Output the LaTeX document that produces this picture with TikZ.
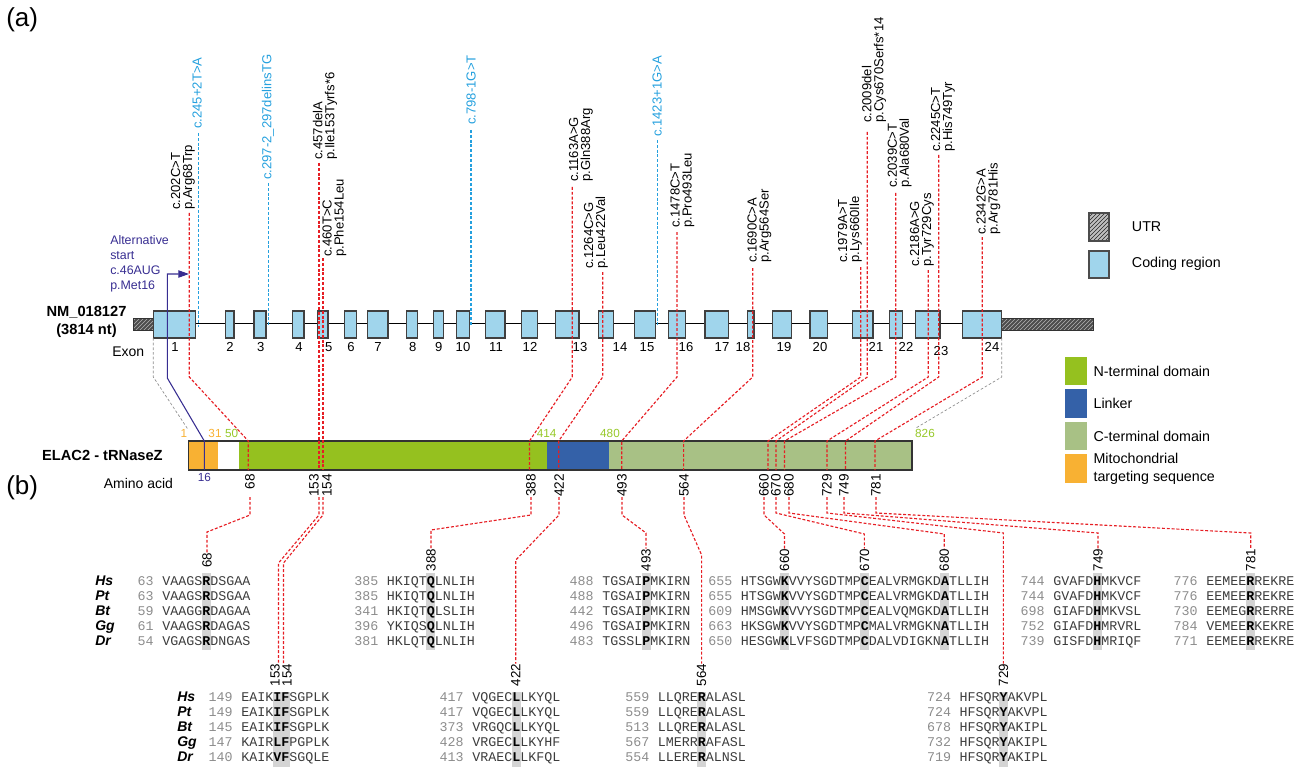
\documentclass[tikz,border=0pt]{standalone}
\usepackage{fontspec}
\setmainfont{Liberation Sans}
\setmonofont{Liberation Mono}
\usetikzlibrary{patterns,arrows.meta}
\definecolor{cod}{RGB}{160,213,236}
\definecolor{mred}{RGB}{230,30,36}
\definecolor{mblue}{RGB}{36,160,222}
\definecolor{purp}{RGB}{55,45,145}
\definecolor{nterm}{RGB}{149,193,31}
\definecolor{linker}{RGB}{52,97,168}
\definecolor{cterm}{RGB}{168,193,133}
\definecolor{mito}{RGB}{248,177,51}
\definecolor{numgreen}{RGB}{150,200,40}
\definecolor{seqgray}{RGB}{60,60,60}
\definecolor{numgray}{RGB}{140,140,140}
\definecolor{hlgray}{RGB}{212,212,212}
\newcommand{\hlch}[1]{\textbf{\textcolor{black}{#1}}}
\begin{document}
\begin{tikzpicture}[x=0.75pt,y=-0.75pt,
  exon/.style={draw=black!75,line width=0.9pt,fill=cod},
  mut/.style={draw=mred,line width=0.85pt,dash pattern=on 2.2pt off 1.4pt},
  spl/.style={draw=mblue,line width=0.85pt,dash pattern=on 2.2pt off 1.4pt},
  gdash/.style={draw=black!45,line width=0.5pt,dash pattern=on 2pt off 1.5pt},
  mlab/.style={rotate=90,anchor=west,align=left,inner sep=0pt,font=\fontsize{9.8}{9}\selectfont},
  exnum/.style={inner sep=0pt,font=\fontsize{9.8}{10}\selectfont},
  barnum/.style={rotate=90,anchor=east,inner sep=0pt,font=\fontsize{10.2}{10}\selectfont},
  alnum/.style={rotate=90,inner sep=0pt,font=\fontsize{10}{10}\selectfont},
  topnum/.style={inner sep=0pt,font=\fontsize{8.8}{9}\selectfont},
  seqst/.style={anchor=mid west,inner sep=0pt,font=\fontsize{10}{10}\selectfont\ttfamily,text=seqgray},
  numst/.style={anchor=mid east,inner sep=0pt,font=\fontsize{10}{10}\selectfont\ttfamily,text=numgray},
  spst/.style={anchor=mid west,inner sep=0pt,font=\fontsize{10.5}{10}\selectfont\bfseries\itshape},
  txt/.style={inner sep=0pt,font=\fontsize{10.5}{12}\selectfont},
  legtxt/.style={anchor=west,inner sep=0pt,align=left,font=\fontsize{10.7}{13}\selectfont},
  legbox/.style={draw=black!70,line width=0.8pt},
]
\useasboundingbox (0,0) rectangle (1303,770);

% panel labels
\node[anchor=west,inner sep=0pt,font=\fontsize{19.5}{20}\selectfont] (pa) at (6,20) {(a)};
\node[anchor=west,inner sep=0pt,font=\fontsize{19.5}{20}\selectfont] (pb) at (6,488) {(b)};

% gene
\node[inner sep=0pt,align=center,font=\fontsize{11}{13}\selectfont\bfseries] (nm) at (86.5,322) {NM\_018127\\(3814 nt)};
\node[txt,anchor=west] (exonlab) at (112,352) {Exon};
\draw[line width=1pt] (153,323.5) -- (1002,323.5);
\draw[black!80,line width=0.6pt,preaction={fill=black!70},pattern=north east lines,pattern color=black!30] (133,318) rectangle (153.3,330);
\draw[black!80,line width=0.6pt,preaction={fill=black!70},pattern=north east lines,pattern color=black!30] (1001.7,318) rectangle (1093,330);
\foreach \a/\b/\n/\lx in {153.3/195.7/1/175,225.3/234/2/230,254/266/3/260.7,292.7/304/4/299,317.3/328/5/328.7,344.7/356.7/6/351,367.3/388/7/378,406.7/417.3/8/412.7,433.3/443.3/9/438.7,456.7/469.3/10/463,485.3/505/11/496,521.3/537.3/12/530,555.7/579/13/580,598.3/613.3/14/620,634.7/655.3/15/647,668.3/685.3/16/686,705/728.7/17/722,747.3/754/18/743,772.7/791.3/19/784,810/827.3/20/820,852.3/873/21/876,889.3/902.7/22/906,962.7/1001.7/24/992}{
  \draw[exon] (\a,311) rectangle (\b,338);
  \node[exnum] (ex\n) at (\lx,347) {\n};
}
\draw[exon] (915.7,311) rectangle (940,338);
\node[exnum] (ex23) at (941,351) {23};

% legend top
\draw[legbox,preaction={fill=black!25},pattern=north east lines,pattern color=black!85] (1089,213) rectangle (1109,241);
\node[legtxt] (lutr) at (1131.7,227) {UTR};
\draw[legbox,fill=cod] (1089,251) rectangle (1109,278);
\node[legtxt] (lcod) at (1131.7,264) {Coding region};

% domain legend
\fill[nterm] (1065,356.7) rectangle (1086.7,385.3);
\fill[linker] (1065,389.3) rectangle (1086.7,417.7);
\fill[cterm] (1065,422) rectangle (1086.7,450);
\fill[mito] (1065,454.3) rectangle (1086.7,483.3);
\node[legtxt] (ln) at (1093.3,371.7) {N-terminal domain};
\node[legtxt] (ll) at (1093.3,403) {Linker};
\node[legtxt] (lc) at (1093.3,436.7) {C-terminal domain};
\node[legtxt] (lm) at (1093.3,468.7) {Mitochondrial\\targeting sequence};

% protein bar
\node[anchor=east,inner sep=0pt,font=\fontsize{11}{13}\selectfont\bfseries] (elac) at (163,455) {ELAC2 - tRNaseZ};
\node[txt,anchor=east] (aa) at (173.3,483) {Amino acid};
\fill[mito] (188.3,441) rectangle (218.3,470);
\fill[white] (218.3,441) rectangle (239,470);
\fill[nterm] (239,441) rectangle (547.3,470);
\fill[linker] (547.3,441) rectangle (609,470);
\fill[cterm] (609,441) rectangle (912,470);
\draw[black!80,line width=1pt] (188.3,441) rectangle (912,470);
\node[topnum,text=mito] (p1) at (184,433) {1};
\node[topnum,text=mito] (p31) at (215,433) {31};
\node[topnum,text=numgreen] (p50) at (231.7,433) {50};
\node[topnum,text=numgreen] (p414) at (546.7,433) {414};
\node[topnum,text=numgreen] (p480) at (610,433) {480};
\node[topnum,text=numgreen] (p826) at (925,433) {826};
\node[topnum,text=purp] (p16) at (204.3,477) {16};

% alternative start
\node[anchor=west,align=left,inner sep=0pt,text=purp,font=\fontsize{9.3}{11.25}\selectfont] (alt) at (110,264) {Alternative\\start\\c.46AUG\\p.Met16};
\coordinate (altend) at (189,274);
\draw[purp,line width=0.8pt,-{Triangle[length=8pt,width=5.5pt]}] (204.3,470) -- (204.3,441) -- (167.3,378) -- (167.3,274) -- (altend);

% gray dashed
\draw[gdash] (153.3,338) -- (153.3,377) -- (p1.north east);
\draw[gdash] (1001.7,338) -- (1001.7,377) -- (p826.north west);

% mutation labels
\node[mlab] (m1) at (183,210) {c.202C>T\\p.Arg68Trp};
\node[mlab,text=mblue] (m2) at (197,129) {c.245+2T>A};
\node[mlab,text=mblue] (m3) at (268,180) {c.297-2\_297delinsTG};
\node[mlab] (m4) at (325,160) {c.457delA\\p.Ile153Tyrfs*6};
\node[mlab] (m5) at (334.5,257) {c.460T>C\\p.Phe154Leu};
\node[mlab,text=mblue] (m6) at (471,125) {c.798-1G>T};
\node[mlab] (m7) at (581,182) {c.1163A>G\\p.Gln388Arg};
\node[mlab] (m8) at (596,269) {c.1264C>G\\p.Leu422Val};
\node[mlab,text=mblue] (m9) at (657,137) {c.1423+1G>A};
\node[mlab] (m10) at (682.5,228) {c.1478C>T\\p.Pro493Leu};
\node[mlab] (m11) at (759.5,263) {c.1690C>A\\p.Arg564Ser};
\node[mlab] (m12) at (850,263) {c.1979A>T\\p.Lys660Ile};
\node[mlab] (m13) at (874,123) {c.2009del\\p.Cys670Serfs*14};
\node[mlab] (m14) at (899.7,188) {c.2039C>T\\p.Ala680Val};
\node[mlab] (m15) at (922,267) {c.2186A>G\\p.Tyr729Cys};
\node[mlab] (m16) at (943,152) {c.2245C>T\\p.His749Tyr};
\node[mlab] (m17) at (988.5,235) {c.2342G>A\\p.Arg781His};

% splice lines
\draw[spl] (198.3,133) -- (198.3,327);
\draw[spl] (268.3,183) -- (268.3,325);
\draw[spl] (471,130) -- (471,325);
\draw[spl] (657.3,140) -- (657.3,325);

% missense lines gene -> protein
\draw[mut] (189.3,213) -- (189.3,377) -- (248.3,441) -- (248.3,470);
\draw[mut] (319,163) -- (319,470);
\draw[mut] (323,258) -- (323,470);
\draw[mut] (572.3,187) -- (572.3,377) -- (529.5,441) -- (529.5,470);
\draw[mut] (602.7,272) -- (602.7,377) -- (558.7,441) -- (558.7,470);
\draw[mut] (677,232) -- (677,377) -- (621.7,441) -- (621.7,470);
\draw[mut] (752.7,268) -- (752.7,377) -- (683.6,441) -- (683.6,470);
\draw[mut] (860.7,267) -- (860.7,377) -- (768,441) -- (768,470);
\draw[mut] (867.3,132) -- (867.3,377) -- (776,441) -- (776,470);
\draw[mut] (895.7,193) -- (895.7,377) -- (784.5,441) -- (784.5,470);
\draw[mut] (928.3,270) -- (928.3,377) -- (827,441) -- (827,470);
\draw[mut] (938.7,155) -- (938.7,377) -- (845.5,441) -- (845.5,470);
\draw[mut] (982.3,237) -- (982.3,377) -- (875,441) -- (875,470);

% bar position labels
\foreach \v/\x in {68/250,153/314,154/327,388/531,422/559,493/622,564/684,660/764,670/776,680/789,729/827,749/844,781/876}
  \node[barnum] (b\v) at (\x,474) {\v};

% alignment highlight columns
\foreach \c in {206,430.7,646,784.7,864.7,944.7,1097,1250}
  \fill[hlgray] (\c-4.5,573) rectangle (\c+4.5,650);
\foreach \c in {277,285,516,701.6,1003.4}
  \fill[hlgray] (\c-4.5,692) rectangle (\c+4.5,767);

% alignment labels
\foreach \v/\x in {68/207,388/431,493/646,660/784.5,670/864.4,680/944.3,749/1098,781/1250.7}
  \node[alnum] (a\v) at (\x,560) {\v};
\foreach \v/\x in {153/275,154/287,422/515.8,564/701.6,729/1003.4}
  \node[alnum] (a\v) at (\x,675) {\v};

% connectors protein -> alignment
\coordinate (y497) at (0,497);
\coordinate (l153) at (319,497);
\coordinate (l154) at (323,497);
\coordinate (e153) at (278.5,663);
\coordinate (e154) at (283.5,663);
\draw[mut] (b68 |- y497) -- (250,515) -- (207,532) -- (a68.east);
\draw[mut] (b388 |- y497) -- (531,515) -- (431,530) -- (a388.east);
\draw[mut] (b493 |- y497) -- (622,515) -- (646,533) -- (a493.east);
\draw[mut] (b660 |- y497) -- (764,515) -- (784.5,534) -- (a660.east);
\draw[mut] (b670 |- y497) -- (776,513) -- (864.4,534) -- (a670.east);
\draw[mut] (b680 |- y497) -- (789,513) -- (944.3,534) -- (a680.east);
\draw[mut] (b749 |- y497) -- (844,513) -- (1098,533) -- (a749.east);
\draw[mut] (b781 |- y497) -- (876,513) -- (1250.7,533) -- (a781.east);
\draw[mut] (l153) -- (319,515) -- (278.5,563) -- (e153);
\draw[mut] (l154) -- (323,515) -- (283.5,563) -- (e154);
\draw[mut] (b422 |- y497) -- (559,515) -- (515.8,560) -- (a422.east);
\draw[mut] (b564 |- y497) -- (684,515) -- (701.6,555) -- (a564.east);
\draw[mut] (b729 |- y497) -- (827,513) -- (1003.4,533) -- (a729.east);

% species
\foreach \sp [count=\i from 0] in {Hs,Pt,Bt,Gg,Dr}{
  \node[spst] (tsp\i) at (95,581.7+15*\i) {\sp};
  \node[spst] (bsp\i) at (177,698.3+15*\i) {\sp};
}

% top alignment blocks
\foreach \n/\s [count=\i from 0] in {63/VAAGS\hlch{R}DSGAA,63/VAAGS\hlch{R}DSGAA,59/VAAGG\hlch{R}DAGAA,61/VAAGS\hlch{R}DAGAS,54/VGAGS\hlch{R}DNGAS}{
  \node[numst] (ta\i) at (154,581.7+15*\i) {\n};
  \node[seqst] (tas\i) at (162,581.7+15*\i) {\s};}
\foreach \n/\s [count=\i from 0] in {385/HKIQT\hlch{Q}LNLIH,385/HKIQT\hlch{Q}LNLIH,341/HKIQT\hlch{Q}LSLIH,396/YKIQS\hlch{Q}LNLIH,381/HKLQT\hlch{Q}LNLIH}{
  \node[numst] (tb\i) at (378.7,581.7+15*\i) {\n};
  \node[seqst] (tbs\i) at (386.7,581.7+15*\i) {\s};}
\foreach \n/\s [count=\i from 0] in {488/TGSAI\hlch{P}MKIRN,488/TGSAI\hlch{P}MKIRN,442/TGSAI\hlch{P}MKIRN,496/TGSAI\hlch{P}MKIRN,483/TGSSL\hlch{P}MKIRN}{
  \node[numst] (tc\i) at (594,581.7+15*\i) {\n};
  \node[seqst] (tcs\i) at (602,581.7+15*\i) {\s};}
\foreach \n/\s [count=\i from 0] in {655/HTSGW\hlch{K}VVYSGDTMP\hlch{C}EALVRMGKD\hlch{A}TLLIH,655/HTSGW\hlch{K}VVYSGDTMP\hlch{C}EALVRMGKD\hlch{A}TLLIH,609/HMSGW\hlch{K}VVYSGDTMP\hlch{C}EALVQMGKD\hlch{A}TLLIH,663/HKSGW\hlch{K}VVYSGDTMP\hlch{C}MALVRMGKN\hlch{A}TLLIH,650/HESGW\hlch{K}LVFSGDTMP\hlch{C}DALVDIGKN\hlch{A}TLLIH}{
  \node[numst] (td\i) at (732.7,581.7+15*\i) {\n};
  \node[seqst] (tds\i) at (740.7,581.7+15*\i) {\s};}
\foreach \n/\s [count=\i from 0] in {744/GVAFD\hlch{H}MKVCF,744/GVAFD\hlch{H}MKVCF,698/GIAFD\hlch{H}MKVSL,752/GIAFD\hlch{H}MRVRL,739/GISFD\hlch{H}MRIQF}{
  \node[numst] (te\i) at (1045,581.7+15*\i) {\n};
  \node[seqst] (tes\i) at (1053,581.7+15*\i) {\s};}
\foreach \n/\s [count=\i from 0] in {776/EEMEE\hlch{R}REKRE,776/EEMEE\hlch{R}REKRE,730/EEMEG\hlch{R}RERRE,784/VEMEE\hlch{R}KEKRE,771/EEMEE\hlch{R}REKRE}{
  \node[numst] (tf\i) at (1198,581.7+15*\i) {\n};
  \node[seqst] (tfs\i) at (1206,581.7+15*\i) {\s};}

% bottom alignment blocks
\foreach \n/\s [count=\i from 0] in {149/EAIK\hlch{IF}SGPLK,149/EAIK\hlch{IF}SGPLK,145/EAIK\hlch{IF}SGPLK,147/KAIR\hlch{LF}PGPLK,140/KAIK\hlch{VF}SGQLE}{
  \node[numst] (ba\i) at (233,698.3+15*\i) {\n};
  \node[seqst] (bas\i) at (241,698.3+15*\i) {\s};}
\foreach \n/\s [count=\i from 0] in {417/VQGEC\hlch{L}LKYQL,417/VQGEC\hlch{L}LKYQL,373/VRGQC\hlch{L}LKYQL,428/VRGEC\hlch{L}LKYHF,413/VRAEC\hlch{L}LKFQL}{
  \node[numst] (bb\i) at (464,698.3+15*\i) {\n};
  \node[seqst] (bbs\i) at (472,698.3+15*\i) {\s};}
\foreach \n/\s [count=\i from 0] in {559/LLQRE\hlch{R}ALASL,559/LLQRE\hlch{R}ALASL,513/LLQRE\hlch{R}ALASL,567/LMERR\hlch{R}AFASL,554/LLERE\hlch{R}ALNSL}{
  \node[numst] (bc\i) at (649.6,698.3+15*\i) {\n};
  \node[seqst] (bcs\i) at (657.6,698.3+15*\i) {\s};}
\foreach \n/\s [count=\i from 0] in {724/HFSQR\hlch{Y}AKVPL,724/HFSQR\hlch{Y}AKVPL,678/HFSQR\hlch{Y}AKIPL,732/HFSQR\hlch{Y}AKIPL,719/HFSQR\hlch{Y}AKIPL}{
  \node[numst] (bd\i) at (951.4,698.3+15*\i) {\n};
  \node[seqst] (bds\i) at (959.4,698.3+15*\i) {\s};}
\end{tikzpicture}
\end{document}
